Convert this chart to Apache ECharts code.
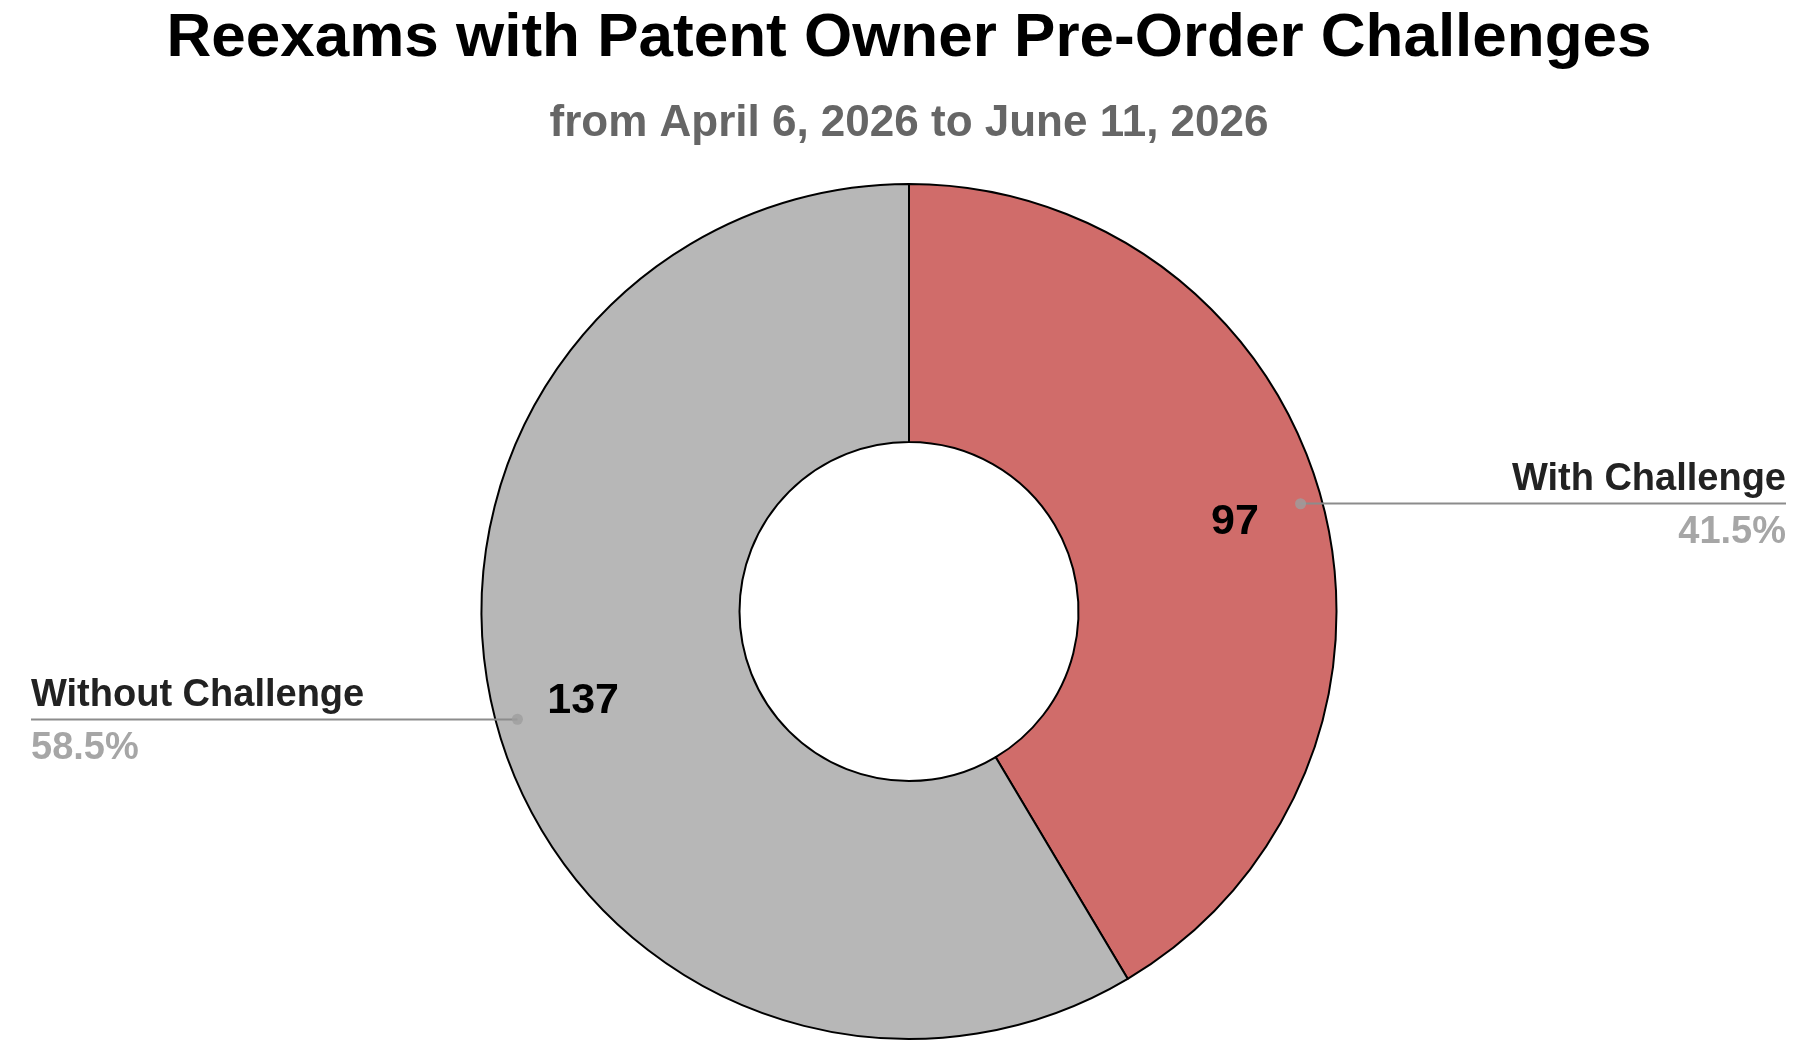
<!DOCTYPE html>
<html>
<head>
<meta charset="utf-8">
<script src="https://cdn.jsdelivr.net/npm/echarts@6/dist/echarts.min.js"></script>
<style>
html,body{margin:0;padding:0;background:#fff;}
#chart{width:1810px;height:1056px;}
</style>
</head>
<body>
<div id="chart"></div>
<script>
// ---- data ----
const titleText = 'Reexams with Patent Owner Pre-Order Challenges';
const subtitleText = 'from April 6, 2026 to June 11, 2026';
const categories = ['With Challenge', 'Without Challenge'];
const counts = [97, 137];
const sliceColors = ['#d06c6a', '#b7b7b7'];

// ---- build ----
const FONT = '"Liberation Sans", Arial, Helvetica, sans-serif';
const center = [909, 611.5];
const outerR = 427.5;
const innerR = 169.5;
const total = counts.reduce((a, b) => a + b, 0);

const pieData = categories.map((c, i) => ({
  name: c,
  value: counts[i],
  itemStyle: { color: sliceColors[i] }
}));

const edgeDist = [24, 31];
const labelData = categories.map((c, i) => ({
  name: c,
  value: counts[i],
  label: { edgeDistance: edgeDist[i] }
}));

// dots at slice mid-angles
let cum = 0;
const dotData = counts.map(v => { const mid = cum + v / 2; cum += v; return [0.95, mid]; });

const chart = echarts.init(document.getElementById('chart'), null, { renderer: 'canvas' });
chart.setOption({
  backgroundColor: '#ffffff',
  animation: false,
  title: [
    {
      text: titleText,
      left: 909, top: 8, textAlign: 'center', padding: 0,
      textStyle: { fontFamily: FONT, fontSize: 62, fontWeight: 'bold', color: '#000000' }
    },
    {
      text: subtitleText,
      left: 909, top: 102, textAlign: 'center', padding: 0,
      textStyle: { fontFamily: FONT, fontSize: 44, fontWeight: 'bold', color: '#666666' }
    }
  ],
  polar: { center: center, radius: outerR },
  angleAxis: { type: 'value', min: 0, max: total, startAngle: 90, clockwise: true, show: false },
  radiusAxis: { type: 'value', min: 0, max: 1, show: false },
  series: [
    {
      type: 'pie',
      center: center,
      radius: [innerR, outerR],
      startAngle: 90,
      clockwise: true,
      silent: true,
      z: 2,
      label: { show: false },
      labelLine: { show: false },
      itemStyle: { borderColor: '#000000', borderWidth: 2 },
      emphasis: { disabled: true },
      data: pieData
    },
    {
      // value labels inside the ring
      type: 'pie',
      center: center,
      radius: [0, 670],
      startAngle: 90,
      clockwise: true,
      silent: true,
      z: 3,
      itemStyle: { color: 'rgba(0,0,0,0)', borderWidth: 0 },
      emphasis: { disabled: true },
      label: {
        show: true, position: 'inside',
        formatter: '{c}',
        fontFamily: FONT, fontSize: 43, fontWeight: 'bold', color: '#000000'
      },
      labelLine: { show: false },
      data: counts.map((v, i) => ({ name: categories[i], value: v }))
    },
    {
      // outer callout labels
      type: 'pie',
      center: center,
      radius: [0, outerR * 0.95],
      startAngle: 90,
      clockwise: true,
      silent: true,
      z: 4,
      percentPrecision: 1,
      avoidLabelOverlap: true,
      itemStyle: { color: 'rgba(0,0,0,0)', borderWidth: 0 },
      emphasis: { disabled: true },
      label: {
        show: true,
        position: 'outside',
        alignTo: 'edge',
        edgeDistance: 24,
        distanceToLabelLine: 0,
        formatter: '{sp| }\n{name|{b}}\n{rule| }\n{pct|{d}%}',
        rich: {
          sp: { fontSize: 1, lineHeight: 12 },
          name: { fontFamily: FONT, fontSize: 38, fontWeight: 'bold', color: '#222222', lineHeight: 45 },
          rule: { fontSize: 1, lineHeight: 2, height: 2, width: 340, backgroundColor: '#8c8c8c' },
          pct: { fontFamily: FONT, fontSize: 38, fontWeight: 'bold', color: '#a6a6a6', lineHeight: 57 }
        }
      },
      labelLine: { show: true, length: 1, length2: 1, minTurnAngle: 0, lineStyle: { color: '#8c8c8c', width: 2 } },
      data: labelData
    },
    {
      type: 'scatter',
      coordinateSystem: 'polar',
      silent: true,
      z: 5,
      symbol: 'circle',
      symbolSize: 11,
      itemStyle: { color: '#9e9e9e' },
      data: dotData
    }
  ]
});
</script>
</body>
</html>
